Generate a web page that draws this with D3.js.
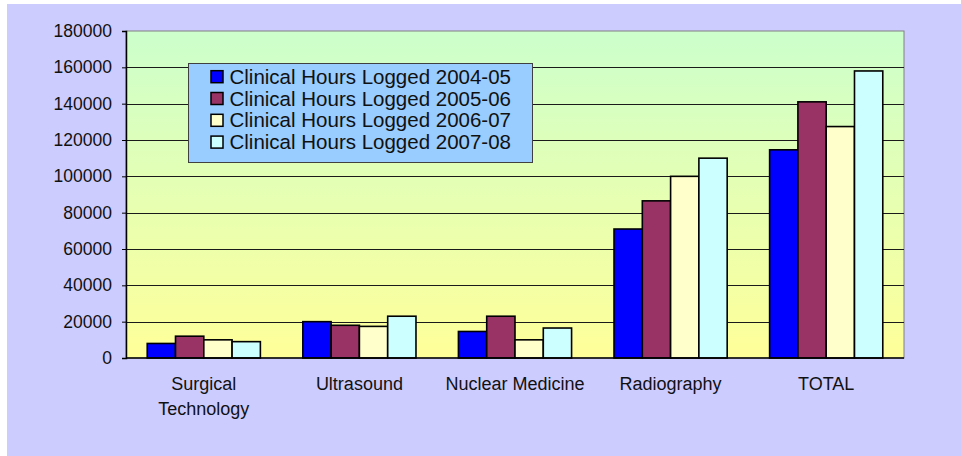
<!DOCTYPE html>
<html>
<head>
<meta charset="utf-8">
<script src="https://cdn.jsdelivr.net/npm/d3@7"></script>
<style>
  html, body { margin: 0; padding: 0; background: #ffffff; }
  svg { display: block; font-family: "Liberation Sans", Arial, sans-serif; }
</style>
</head>
<body>
<div id="chart"></div>
<script>
const categories = [['Surgical', 'Technology'], ['Ultrasound'], ['Nuclear Medicine'], ['Radiography'], ['TOTAL']]
const seriesNames = ['Clinical Hours Logged 2004-05', 'Clinical Hours Logged 2005-06', 'Clinical Hours Logged 2006-07', 'Clinical Hours Logged 2007-08']
const hours0405 = [8000, 20000, 14600, 71000, 114600]
const hours0506 = [12000, 18000, 23000, 86500, 141000]
const hours0607 = [10000, 17400, 10000, 100000, 127400]
const hours0708 = [9000, 23000, 16500, 110000, 158000]
const yTicks = [0, 20000, 40000, 60000, 80000, 100000, 120000, 140000, 160000, 180000]
const colors = ['#0000ff', '#993366', '#ffffcc', '#ccffff']

const width = 961
const height = 456
const plot = { left: 126, top: 31, right: 904, bottom: 358 }

const svg = d3.select('#chart').append('svg')
    .attr('width', width)
    .attr('height', height)

// outer area
svg.append('rect')
    .attr('x', 7).attr('y', 4)
    .attr('width', width - 7).attr('height', height - 4)
    .attr('fill', '#ccccff')

const defs = svg.append('defs')
const grad = defs.append('linearGradient')
    .attr('id', 'plotbg')
    .attr('x1', 0).attr('y1', 0).attr('x2', 0).attr('y2', 1)
grad.append('stop').attr('offset', '0%').attr('stop-color', '#ccffcc')
grad.append('stop').attr('offset', '100%').attr('stop-color', '#ffff99')

svg.append('rect')
    .attr('x', plot.left).attr('y', plot.top)
    .attr('width', plot.right - plot.left).attr('height', plot.bottom - plot.top)
    .attr('fill', 'url(#plotbg)')
    .attr('stroke', '#808080')
    .attr('stroke-width', 1)

const x0 = d3.scaleBand()
    .domain(d3.range(categories.length))
    .range([plot.left, plot.right])

const x1 = d3.scaleBand()
    .domain(d3.range(seriesNames.length))
    .range([0, x0.bandwidth()])
    .paddingOuter(0.75)

const y = d3.scaleLinear()
    .domain([0, 180000])
    .range([plot.bottom, plot.top])

// gridlines
svg.append('g')
    .selectAll('line')
    .data(yTicks.filter((t) => t > 0 && t < 180000))
    .enter()
    .append('line')
    .attr('x1', plot.left).attr('x2', plot.right)
    .attr('y1', (d) => Math.round(y(d)) + 0.5)
    .attr('y2', (d) => Math.round(y(d)) + 0.5)
    .attr('stroke', '#1a1a1a')
    .attr('stroke-width', 1)

// bars
const table = [hours0405, hours0506, hours0607, hours0708]
const barData = []
table.forEach((vals, s) => {
    vals.forEach((v, c) => {
        barData.push({ s: s, c: c, v: v })
    })
})

svg.append('g')
    .selectAll('rect')
    .data(barData)
    .enter()
    .append('rect')
    .attr('x', (d) => x0(d.c) + x1(d.s))
    .attr('y', (d) => y(d.v))
    .attr('width', x1.bandwidth())
    .attr('height', (d) => plot.bottom - y(d.v))
    .attr('fill', (d) => colors[d.s])
    .attr('stroke', '#000')
    .attr('stroke-width', 1.6)

// y axis
const yAxis = svg.append('g')
    .attr('transform', 'translate(' + plot.left + ',0)')
    .call(d3.axisLeft(y).tickValues(yTicks).tickFormat(d3.format('d')).tickSize(4).tickPadding(10))
yAxis.select('.domain').attr('stroke', '#000').attr('stroke-width', 1.5)
yAxis.selectAll('.tick line').attr('stroke', '#000')
yAxis.selectAll('text')
    .attr('font-size', 17.5)
    .attr('fill', '#111')
    .attr('font-family', '"Liberation Sans", Arial, sans-serif')

// x axis baseline
svg.append('line')
    .attr('x1', plot.left).attr('x2', plot.right)
    .attr('y1', plot.bottom).attr('y2', plot.bottom)
    .attr('stroke', '#000')
    .attr('stroke-width', 1.5)

// category labels
const catLabels = svg.append('g')
    .selectAll('text')
    .data(categories)
    .enter()
    .append('text')
    .attr('x', (d, i) => x0(i) + x0.bandwidth() / 2)
    .attr('y', 390)
    .attr('text-anchor', 'middle')
    .attr('font-size', 18)
    .attr('fill', '#111')
catLabels.selectAll('tspan')
    .data((d) => d)
    .enter()
    .append('tspan')
    .attr('x', function () { return d3.select(this.parentNode).attr('x') })
    .attr('dy', (d, i) => (i === 0 ? 0 : 25))
    .text((d) => d)

// legend
const legend = svg.append('g').attr('transform', 'translate(188.5,63.5)')
legend.append('rect')
    .attr('width', 344)
    .attr('height', 99)
    .attr('fill', '#99ccff')
    .attr('stroke', '#404040')
    .attr('stroke-width', 1)

const items = legend.selectAll('g.item')
    .data(seriesNames)
    .enter()
    .append('g')
    .attr('class', 'item')
    .attr('transform', (d, i) => 'translate(0,' + (13.2 + i * 21.8) + ')')
items.append('rect')
    .attr('x', 22.5).attr('y', -6)
    .attr('width', 12).attr('height', 12)
    .attr('fill', (d, i) => colors[i])
    .attr('stroke', '#000')
    .attr('stroke-width', 1.5)
items.append('text')
    .attr('x', 41)
    .attr('y', 7)
    .attr('font-size', 20.5)
    .attr('fill', '#111')
    .text((d) => d)
</script>
</body>
</html>
